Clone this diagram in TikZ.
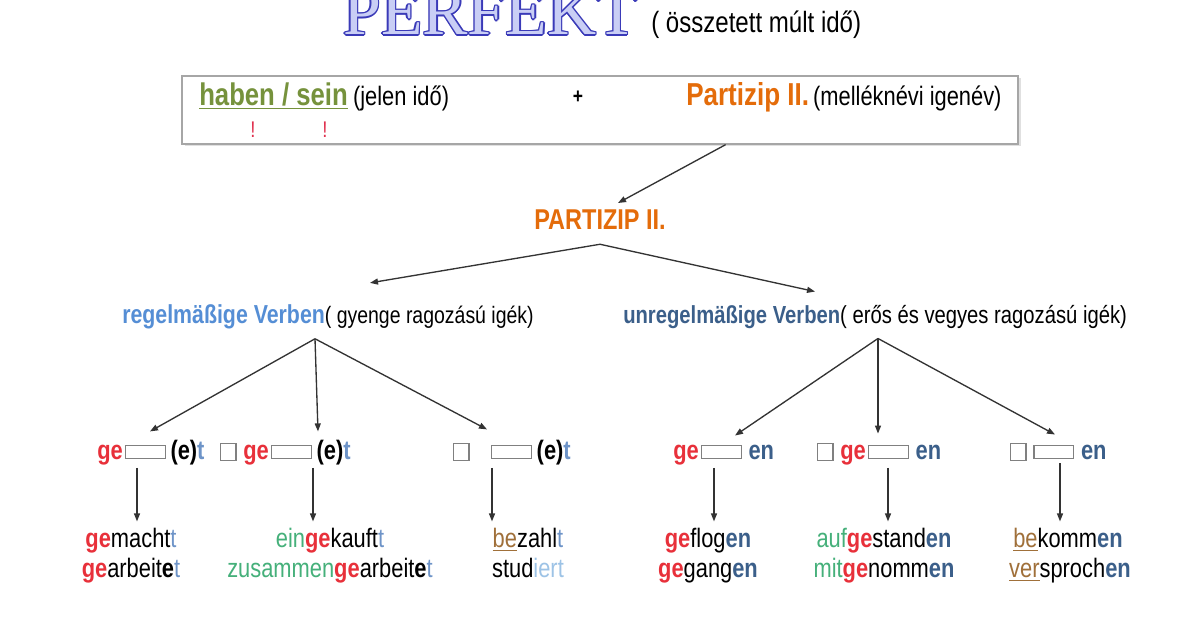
\documentclass[tikz,border=0pt]{standalone}
\usepackage{fontspec}
\setmainfont{Liberation Sans}[FakeStretch=0.82]
\newfontfamily\titlefont{Liberation Serif}
\usetikzlibrary{calc,arrows.meta}
\definecolor{hgreen}{HTML}{76923C}
\definecolor{porange}{HTML}{E46C0A}
\definecolor{exred}{HTML}{E0304E}
\definecolor{rblue}{HTML}{558ED5}
\definecolor{ublue}{HTML}{3B5F8A}
\definecolor{gered}{HTML}{E8303A}
\definecolor{tblue}{HTML}{6E94C8}
\definecolor{pgreen}{HTML}{45B07A}
\definecolor{pbrown}{HTML}{A0703A}
\definecolor{lblue}{HTML}{9DC3E6}
\definecolor{slotgray}{HTML}{808080}
\definecolor{boxgray}{HTML}{A6A6A6}
\definecolor{titleline}{HTML}{3A3AB8}
\definecolor{titlefill}{HTML}{C9CEF5}
\definecolor{arrowgray}{HTML}{333333}
\newcommand\slotbox{\raisebox{1.5pt}{\setlength{\fboxsep}{0pt}\setlength{\fboxrule}{0.9pt}\fcolorbox{slotgray}{white}{\rule{0pt}{9pt}\hspace{29pt}}}}
\newcommand\sqbox{\raisebox{0pt}{\setlength{\fboxsep}{0pt}\setlength{\fboxrule}{0.9pt}\fcolorbox{slotgray}{white}{\rule{0pt}{12pt}\hspace{10.5pt}}}}
\newcommand\gepre{\textcolor{gered}{\textbf{ge}}}
\newcommand\tend[1]{\textcolor{tblue}{#1}}
\newcommand\enend{\textcolor{ublue}{\textbf{en}}}
\newcommand\grpre[1]{\textcolor{pgreen}{#1}}
\newcommand\brpre[1]{\textcolor{pbrown}{\underline{#1}}}
\tikzset{
  arr/.style={draw=arrowgray, line width=1pt, -{Triangle[length=6pt,width=4.5pt]}},
  formtxt/.style={anchor=base west, inner sep=0pt, font=\bfseries\fontsize{20}{22}\selectfont},
  wordtxt/.style={anchor=base, inner sep=0pt, font=\fontsize{20}{24}\selectfont},
  mid/.style={anchor=base west, inner sep=0pt},
}
\begin{document}
\begin{tikzpicture}[x=0.75pt,y=-0.75pt]
\useasboundingbox (0,0) rectangle (1200,630);
\clip (0,0) rectangle (1200,630);
\fill[white] (0,0) rectangle (1200,630);
% title
\foreach \dx/\dy [count=\i] in {-1.4/0,1.4/0,0/-1.4,0/1.4,-1/-1,1/1,-1/1,1/-1}
  \node[anchor=base west, inner sep=0pt, text=titleline, font=\titlefont\fontsize{51}{51}\selectfont] (tc\i) at ($(343,35)+(\dx,\dy)$) {PERFEKT};
\node[anchor=base west, inner sep=0pt, text=titlefill, font=\titlefont\fontsize{51}{51}\selectfont] (title) at (343,35) {PERFEKT};
\node[anchor=base west, inner sep=0pt, font=\fontsize{22}{24}\selectfont] (titlesub) at (651,33) {( összetett múlt idő)};
% box
\fill[black!12] (184.5,78.5) rectangle (1020.5,146.5);
\node[draw=boxgray, fill=white, line width=1pt, minimum width=627pt, minimum height=51pt, inner sep=0pt] (box) at (600,110) {};
\node[mid] (haben) at (199,106) {{\color{hgreen}\bfseries\fontsize{23.5}{26}\selectfont\underline{haben / sein}}\hspace{4pt}{\fontsize{20}{22}\selectfont(jelen idő)}};
\node[inner sep=0pt, text=exred, font=\fontsize{17}{19}\selectfont] (ex1) at (253,130) {!};
\node[inner sep=0pt, text=exred, font=\fontsize{17}{19}\selectfont] (ex2) at (325,130) {!};
\node[inner sep=0pt, font=\bfseries\fontsize{16}{18}\selectfont] (plus) at (578,97) {+};
\node[mid] (partizip) at (686,106) {{\color{porange}\bfseries\fontsize{23.8}{26}\selectfont Partizip II.}\hspace{3pt}{\fontsize{20}{22}\selectfont(melléknévi igenév)}};
% PARTIZIP II.
\node[anchor=base, inner sep=0pt, text=porange, font=\bfseries\fontsize{21.5}{24}\selectfont] (pz) at (600,230) {PARTIZIP II.};
% categories
\node[mid] (regel) at (122,324) {{\color{rblue}\bfseries\fontsize{19.5}{22}\selectfont regelmäßige Verben}{\fontsize{17.8}{20}\selectfont( gyenge ragozású igék)}};
\node[mid] (unregel) at (623,324) {{\color{ublue}\bfseries\fontsize{18.5}{22}\selectfont unregelmäßige Verben}{\fontsize{18.5}{20}\selectfont( erős és vegyes ragozású igék)}};
% forms
\node[formtxt] (f1) at (97,460) {\gepre\hspace{1.5pt}\slotbox\hspace{3.5pt}(e)\tend{t}};
\node[formtxt] (f2) at (220,460) {\sqbox\hspace{5pt}\gepre\hspace{1.5pt}\slotbox\hspace{3.5pt}(e)\tend{t}};
\node[formtxt] (f3) at (453,460) {\sqbox\hspace{16pt}\slotbox\hspace{3.5pt}(e)\tend{t}};
\node[formtxt] (f4) at (673,460) {\gepre\hspace{1.5pt}\slotbox\hspace{5pt}\enend};
\node[formtxt] (f5) at (817,460) {\sqbox\hspace{5pt}\gepre\hspace{1.5pt}\slotbox\hspace{5pt}\enend};
\node[formtxt] (f6) at (1010,460) {\sqbox\hspace{5pt}\slotbox\hspace{5pt}\enend};
% words
\node[wordtxt] (w1a) at (131,548) {\gepre macht\tend{t}};
\node[wordtxt] (w1b) at (131,578) {\gepre arbeit\textbf{e}\tend{t}};
\node[wordtxt] (w2a) at (330,548) {\grpre{ein}\gepre kauft\tend{t}};
\node[wordtxt] (w2b) at (330,578) {\grpre{zusammen}\gepre arbeit\textbf{e}\tend{t}};
\node[wordtxt] (w3a) at (528,548) {\brpre{be}zahl\tend{t}};
\node[wordtxt] (w3b) at (528,578) {stud\textcolor{lblue}{iert}};
\node[wordtxt] (w4a) at (708,548) {\gepre flog\enend};
\node[wordtxt] (w4b) at (708,578) {\gepre gang\enend};
\node[wordtxt] (w5a) at (884,548) {\grpre{auf}\gepre stand\enend};
\node[wordtxt] (w5b) at (884,578) {\grpre{mit}\gepre nomm\enend};
\node[wordtxt] (w6a) at (1068,548) {\brpre{be}komm\enend};
\node[wordtxt] (w6b) at (1070,578) {\brpre{ver}sproch\enend};
% connector joints
\coordinate (boxout) at ($(box.south west)!0.65!(box.south east)$);
\coordinate (pzin) at ($(pz.north)+(18,-7)$);
\coordinate (pzout) at ($(pz.south)+(0,14)$);
\coordinate (regin) at ($(regel.north west)+(248,-22)$);
\coordinate (unrin) at ($(unregel.north west)+(192,-14)$);
\coordinate (regout) at ($(regel.south west)+(193,9)$);
\coordinate (unrout) at ($(unregel.south west)+(255,9)$);
\draw[arr] (boxout) -- (pzin);
\draw[arr] (pzout) -- (regin);
\draw[arr] (pzout) -- (unrin);
\draw[arr] (regout) -- ($(f1.north west)+(53,-9)$);
\draw[arr] (regout) -- ($(f2.north west)+(98,-9)$);
\draw[arr] (regout) -- ($(f3.north west)+(34,-11)$);
\draw[arr] (unrout) -- ($(f4.north west)+(62,-9)$);
\draw[arr] (unrout) -- ($(f5.north west)+(61,-9)$);
\draw[arr] (unrout) -- ($(f6.north west)+(45,-8)$);
% vertical arrows
\foreach \f/\w/\x in {f1/w1a/137,f2/w2a/313,f3/w3a/492,f4/w4a/714,f5/w5a/888,f6/w6a/1060}{
  \coordinate (ax\f) at (\x,0);
  \draw[arr] ($(\f.south -| ax\f)+(0,2)$) -- ($(\w.north -| ax\f)+(0,-7)$);
}
\end{tikzpicture}
\end{document}
